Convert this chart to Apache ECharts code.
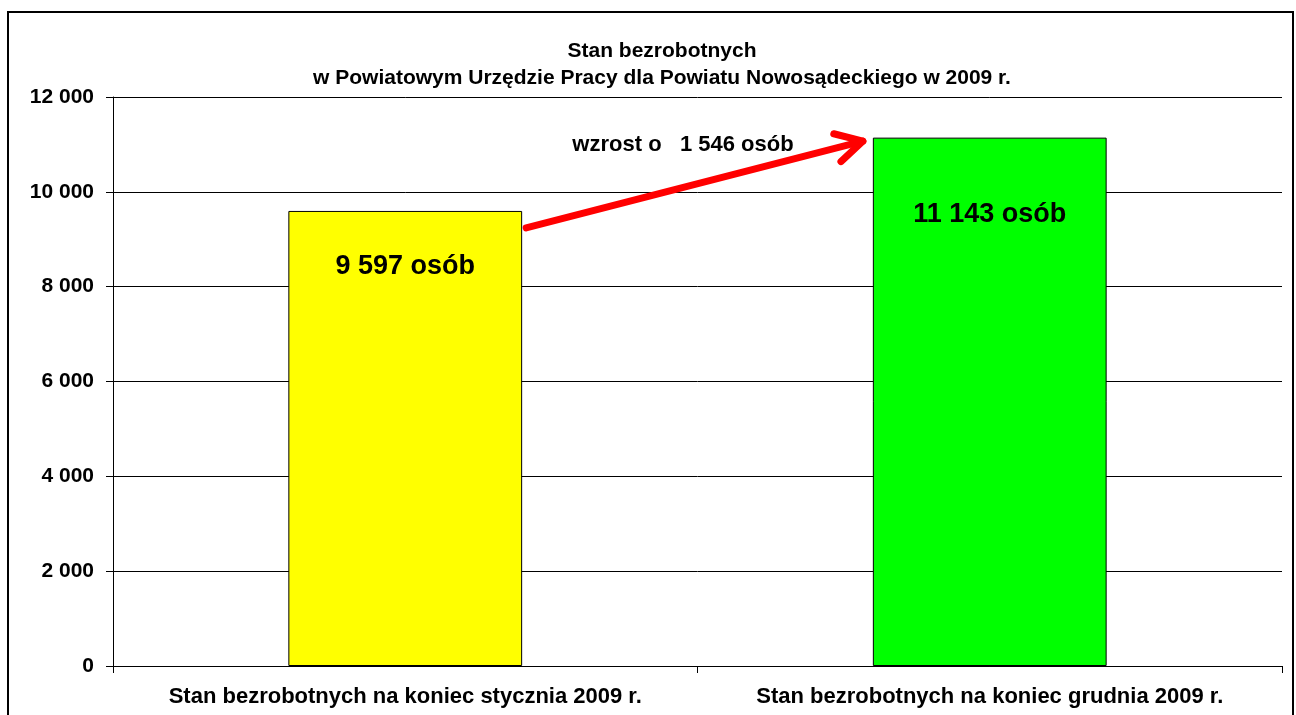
<!DOCTYPE html>
<html>
<head>
<meta charset="utf-8">
<script src="https://cdn.jsdelivr.net/npm/echarts@6/dist/echarts.min.js"></script>
<style>
  html, body { margin: 0; padding: 0; background: #fff; }
  #chart { width: 1296px; height: 715px; }
</style>
</head>
<body>
<div id="chart"></div>
<script>
// dane
var categories = ['Stan bezrobotnych na koniec stycznia 2009 r.', 'Stan bezrobotnych na koniec grudnia 2009 r.'];
var values = [9597, 11143];
var barColors = ['#ffff00', '#00ff00'];
var barLabels = ['9 597 osób', '11 143 osób'];
var labelOffsets = [[0, 37], [0, 58]];
var arrowStart = 9240;   // wartość na osi Y, początek strzałki
var arrowEnd = 11070;    // koniec strzałki
var growthText = 'wzrost o   1 546 osób';

var font = 'Liberation Sans, Arial, sans-serif';

function fmt(v) {
  return String(v).replace(/\B(?=(\d{3})+(?!\d))/g, ' ');
}

var chart = echarts.init(document.getElementById('chart'));

var frame = {
  type: 'rect',
  shape: { x: 8, y: 12, width: 1285, height: 720 },
  style: { fill: null, stroke: '#000', lineWidth: 2 },
  silent: true
};

var option = {
  animation: false,
  title: {
    text: 'Stan bezrobotnych\nw Powiatowym Urzędzie Pracy dla Powiatu Nowosądeckiego w 2009 r.',
    left: 657,
    textAlign: 'center',
    top: 33,
    textStyle: { fontFamily: font, fontSize: 21, fontWeight: 'bold', color: '#000', lineHeight: 27 }
  },
  grid: { left: 113, right: 14, top: 97, bottom: 49 },
  xAxis: {
    type: 'category',
    data: categories,
    axisLine: { lineStyle: { color: '#000', width: 1 } },
    axisTick: { show: true, interval: 0, length: 7, lineStyle: { color: '#000' } },
    axisLabel: { interval: 0, fontFamily: font, fontSize: 22, fontWeight: 'bold', color: '#000', margin: 20 }
  },
  yAxis: {
    type: 'value',
    min: 0,
    max: 12000,
    interval: 2000,
    axisLine: { show: true, lineStyle: { color: '#000', width: 1 } },
    axisTick: { show: true, length: 7, lineStyle: { color: '#000' } },
    splitLine: { lineStyle: { color: '#000', width: 1 } },
    axisLabel: {
      fontFamily: font, fontSize: 21, fontWeight: 'bold', color: '#000', margin: 19,
      formatter: function (v) { return fmt(v); }
    }
  },
  series: [{
    type: 'bar',
    barWidth: '40%',
    data: values.map(function (v, i) {
      return {
        value: v,
        itemStyle: { color: barColors[i], borderColor: '#000', borderWidth: 1 },
        label: {
          show: true,
          position: 'insideTop',
          offset: labelOffsets[i],
          formatter: barLabels[i],
          fontFamily: font, fontSize: 27, fontWeight: 'bold', color: '#000'
        }
      };
    })
  }],
  graphic: [frame]
};
chart.setOption(option);

// strzałka wzrostu
var p0 = chart.convertToPixel({ seriesIndex: 0 }, [0, arrowStart]);
var p1 = chart.convertToPixel({ seriesIndex: 0 }, [1, arrowEnd]);
var bw = (p1[0] - p0[0]) * 0.4;
var x0 = p0[0] + bw / 2 + 4;
var x1 = p1[0] - bw / 2 - 10;
var ang = Math.atan2(p1[1] - p0[1], x1 - x0);
var head = 30, spread = 0.5;
chart.setOption({
  graphic: [frame, {
    type: 'line',
    shape: { x1: x0, y1: p0[1], x2: x1, y2: p1[1] },
    style: { stroke: '#ff0000', lineWidth: 7, lineCap: 'round' },
    z: 10
  }, {
    type: 'polyline',
    shape: {
      points: [
        [x1 - head * Math.cos(ang - spread), p1[1] - head * Math.sin(ang - spread)],
        [x1, p1[1]],
        [x1 - head * Math.cos(ang + spread), p1[1] - head * Math.sin(ang + spread)]
      ]
    },
    style: { stroke: '#ff0000', lineWidth: 7, lineCap: 'round', lineJoin: 'round', fill: null },
    z: 10
  }, {
    type: 'text',
    x: 683,
    y: 145,
    style: {
      text: growthText, fontFamily: font, fontSize: 22, fontWeight: 'bold', fill: '#000',
      align: 'center', verticalAlign: 'middle'
    },
    z: 10
  }]
});
</script>
</body>
</html>
